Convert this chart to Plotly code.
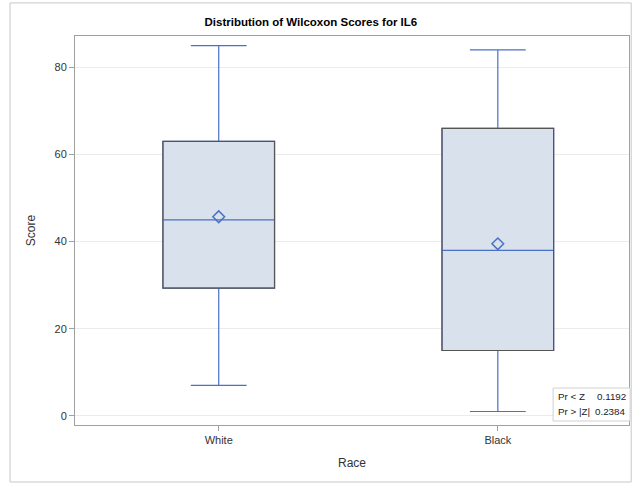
import plotly.graph_objects as go

# Wilcoxon score summary by race
races = ["White", "Black"]
lower_whisker = [7, 1]
q1 = [29.3, 15.0]
median = [45.0, 38.0]
q3 = [63.0, 66.0]
upper_whisker = [85, 84]
mean = [45.7, 39.5]

# Test statistics shown in the inset
stat_labels = ["Pr < Z", "Pr > |Z|"]
stat_values = ["0.1192", "0.2384"]

BLUE = "#4a72c4"
FILL = "#d9e1ec"
OUTLINE = "#555555"
BOX_W = 0.40

fig = go.Figure()

fig.add_trace(go.Box(
    x=races,
    q1=q1, median=median, q3=q3,
    lowerfence=lower_whisker, upperfence=upper_whisker,
    width=BOX_W,
    whiskerwidth=0.5,
    fillcolor=FILL,
    line=dict(color=BLUE, width=1.2),
    boxpoints=False,
    hoverinfo="skip",
    showlegend=False,
))

# dark outline around each box
for i in range(len(races)):
    fig.add_shape(type="rect", xref="x", yref="y",
                  x0=i - BOX_W / 2, x1=i + BOX_W / 2, y0=q1[i], y1=q3[i],
                  line=dict(color=OUTLINE, width=1.2), fillcolor="rgba(0,0,0,0)",
                  layer="above")

# mean markers
fig.add_trace(go.Scatter(
    x=races, y=mean, mode="markers",
    marker=dict(symbol="diamond-open", size=9, color=BLUE, line=dict(width=1.5, color=BLUE)),
    hoverinfo="skip", showlegend=False,
))

# outer graph frame
fig.add_shape(type="rect", xref="paper", yref="paper",
              x0=-0.1173, x1=1.004, y0=-0.1465, y1=1.085,
              line=dict(color="#c8c8c8", width=1), layer="below")

# inset with the test statistics
fig.add_shape(type="rect", xref="paper", yref="paper",
              x0=0.863, x1=1.002, y0=0.0103, y1=0.095,
              line=dict(color="#d0d0d0", width=1), fillcolor="white", layer="above")
row_y = [0.072, 0.034]
for lab, val, yy in zip(stat_labels, stat_values, row_y):
    fig.add_annotation(xref="paper", yref="paper", x=0.868, y=yy,
                       xanchor="left", yanchor="middle", text=lab, showarrow=False,
                       font=dict(family="Liberation Sans, Arial", size=9.8, color="#222222"))
    fig.add_annotation(xref="paper", yref="paper", x=0.998, y=yy,
                       xanchor="right", yanchor="middle", text=val, showarrow=False,
                       font=dict(family="Liberation Sans, Arial", size=9.8, color="#222222"))

fig.update_layout(
    width=641, height=485,
    margin=dict(l=75, r=12, t=36, b=60),
    paper_bgcolor="white", plot_bgcolor="white",
    font=dict(family="Liberation Sans, Arial", size=11, color="#333333"),
    title=dict(text="<b>Distribution of Wilcoxon Scores for IL6</b>",
               x=0.485, xanchor="center", y=0.955, yanchor="middle",
               font=dict(family="Liberation Sans, Arial", size=11.5, color="#000000")),
    xaxis=dict(
        title=dict(text="Race", standoff=13, font=dict(size=12, color="#333333")),
        type="category", range=[-0.515, 1.47],
        showline=True, linecolor="#a0a0a0", mirror=True, linewidth=1,
        ticks="outside", ticklen=5, tickcolor="#a0a0a0",
        showgrid=False, zeroline=False,
    ),
    yaxis=dict(
        title=dict(text="Score", standoff=16, font=dict(size=12, color="#333333")),
        range=[-2.1, 87.2], tickvals=[0, 20, 40, 60, 80],
        showline=True, linecolor="#a0a0a0", mirror=True, linewidth=1,
        ticks="outside", ticklen=5, tickcolor="#a0a0a0",
        showgrid=True, gridcolor="#ebebeb", zeroline=False,
    ),
)

fig.write_html("out.html")
